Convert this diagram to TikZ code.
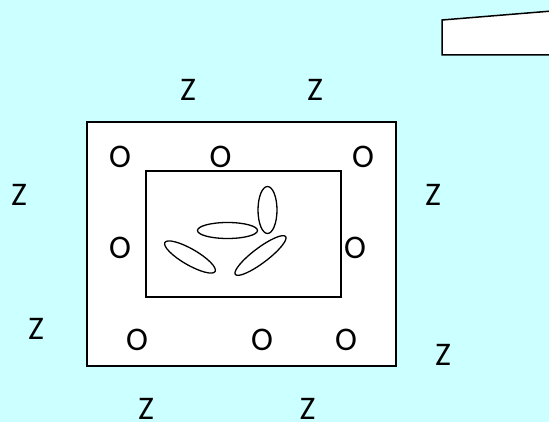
\documentclass[tikz,border=0pt]{standalone}
\usepackage{fontspec}
\setmainfont{Carlito}
\definecolor{bgcyan}{HTML}{CCFFFF}
\tikzset{
  lbl/.style={inner sep=0pt, font=\fontsize{33}{38}\selectfont},
  frame/.style={draw=black, line width=1.5pt, fill=white},
  ell/.style={draw=black, line width=1.3pt, fill=none},
}
\begin{document}
\begin{tikzpicture}[x=1pt,y=-1pt]
\useasboundingbox (0,0) rectangle (549,422);
\fill[bgcyan] (0,0) rectangle (549,422);
% top-right trapezoid
\draw[frame] (442,20) -- (552,11) -- (552,55) -- (442,55) -- cycle;
% outer and inner rectangles
\node[frame, minimum width=309pt, minimum height=244pt, inner sep=0pt] (outer) at (241.5,244) {};
\node[frame, minimum width=195pt, minimum height=126pt, inner sep=0pt] (inner) at (243.5,234) {};
% ellipses
\draw[ell] (267.5,210) ellipse [x radius=9.5, y radius=23.5];
\draw[ell] (227.5,230.5) ellipse [x radius=30, y radius=8];
\draw[ell] (190,257) ellipse [x radius=29, y radius=8, rotate=-30];
\draw[ell] (260.5,255.5) ellipse [x radius=31.5, y radius=7.5, rotate=37];
% Z labels
\node[lbl] (z1) at (188,90) {Z};
\node[lbl] (z2) at (315,90) {Z};
\node[lbl] (z3) at (19,195) {Z};
\node[lbl] (z4) at (433,195) {Z};
\node[lbl] (z5) at (36,329) {Z};
\node[lbl] (z6) at (443,355) {Z};
\node[lbl] (z7) at (146,409) {Z};
\node[lbl] (z8) at (307.5,409) {Z};
% O labels
\node[lbl] (o1) at (120,157) {O};
\node[lbl] (o2) at (220.5,157) {O};
\node[lbl] (o3) at (363,157) {O};
\node[lbl] (o4) at (120,248) {O};
\node[lbl] (o5) at (355,248) {O};
\node[lbl] (o6) at (137,340) {O};
\node[lbl] (o7) at (262,340) {O};
\node[lbl] (o8) at (346,340) {O};
\end{tikzpicture}
\end{document}
